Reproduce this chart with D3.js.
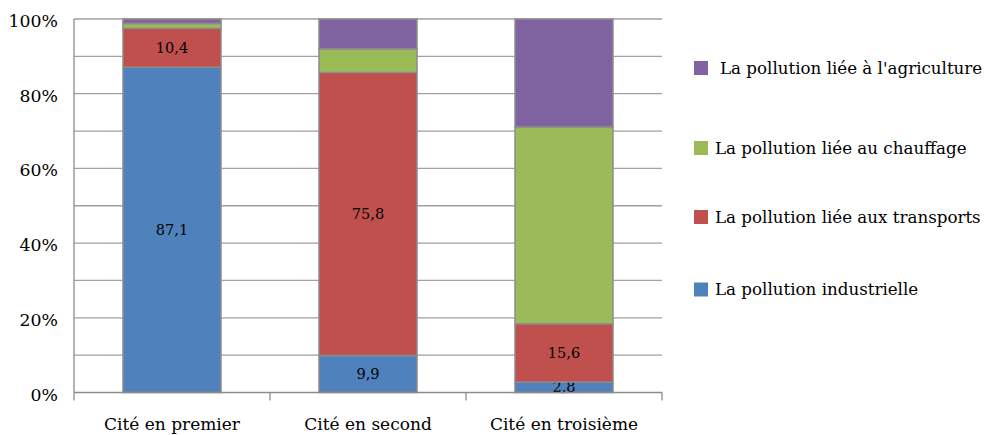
<!DOCTYPE html>
<html><head><meta charset="utf-8">
<script src="https://cdn.jsdelivr.net/npm/d3@7"></script>
<style>body{margin:0;background:#fff}svg{display:block}text{font-family:"DejaVu Serif",serif;fill:#000}</style>
</head><body><svg id="c" width="994" height="435"></svg>
<script>
const categories = ["Cité en premier", "Cité en second", "Cité en troisième"];
const seriesNames = ["La pollution industrielle", "La pollution liée aux transports", "La pollution liée au chauffage", "La pollution liée à l'agriculture"];
const industrielle = [87.1, 9.9, 2.8];
const transports = [10.4, 75.8, 15.6];
const chauffage = [1.3, 6.3, 52.7];
const agriculture = [1.2, 8.0, 28.9];
const labelled = [true, true, false, false];
const yTicks = [0, 20, 40, 60, 80, 100];
const colors = ["#4f81bd", "#c0504d", "#9bbb59", "#8064a2"];

const series = [industrielle, transports, chauffage, agriculture];
const svg = d3.select("#c");
const L = 74, R = 662, T = 19, B = 392.5;
const x = d3.scaleBand().domain(categories).range([L, R]).paddingInner(0.5).paddingOuter(0.25);
const y = d3.scaleLinear().domain([0, 100]).range([B, T]);

// gridlines every 10%
svg.append("g").selectAll("line").data(d3.range(10, 101, 10)).join("line")
  .attr("x1", L).attr("x2", R).attr("y1", d => y(d)).attr("y2", d => y(d))
  .attr("stroke", "#a0a0a0").attr("stroke-width", 1.3);

// stacked data
const rows = categories.map((c, i) => { const o = {cat: c}; seriesNames.forEach((s, k) => o[s] = series[k][i]); return o; });
const stacked = d3.stack().keys(seriesNames)(rows);

stacked.forEach((layer, k) => {
  const g = svg.append("g");
  g.selectAll("rect").data(layer).join("rect")
    .attr("x", d => x(d.data.cat)).attr("width", x.bandwidth())
    .attr("y", d => y(d[1])).attr("height", d => y(d[0]) - y(d[1]))
    .attr("fill", colors[k]).attr("stroke", "#8c8c8c").attr("stroke-width", 1.5);
  if (labelled[k]) {
    g.selectAll("text").data(layer).join("text")
      .attr("x", d => x(d.data.cat) + x.bandwidth() / 2)
      .attr("y", d => (y(d[0]) + y(d[1])) / 2)
      .attr("dy", "0.35em").attr("text-anchor", "middle").style("font-size", "14.5px")
      .text(d => d3.format(".1f")(d[1] - d[0]).replace(".", ","));
  }
});

// axes
const xAxis = svg.append("g").attr("transform", `translate(0,${B})`);
xAxis.append("line").attr("x1", L).attr("x2", R).attr("stroke", "#8c8c8c").attr("stroke-width", 1.3);
const bounds = [L, ...categories.map(c => x(c) + x.bandwidth() + x.step() * 0.25)];
xAxis.selectAll("line.t").data(bounds).join("line").attr("class", "t")
  .attr("x1", d => d).attr("x2", d => d).attr("y1", 0).attr("y2", 8)
  .attr("stroke", "#8c8c8c").attr("stroke-width", 1.3);
xAxis.selectAll("text").data(categories).join("text")
  .attr("x", d => x(d) + x.bandwidth() / 2).attr("y", 37.5).attr("text-anchor", "middle")
  .style("font-size", "17px").text(d => d);

svg.append("line").attr("x1", L).attr("x2", L).attr("y1", T).attr("y2", B)
  .attr("stroke", "#8c8c8c").attr("stroke-width", 1.3);
svg.append("g").selectAll("text").data(yTicks).join("text")
  .attr("x", 58).attr("y", d => y(d) + 2).attr("dy", "0.35em").attr("text-anchor", "end")
  .style("font-size", "17.3px").text(d => d + "%");

// legend (top to bottom: reverse order)
const legY = [68, 148, 217, 289.5];
const legItems = seriesNames.map((s, k) => ({s, k})).reverse();
const lg = svg.append("g").selectAll("g").data(legItems).join("g")
  .attr("transform", (d, i) => `translate(694,${legY[i]})`);
lg.append("rect").attr("x", 0).attr("y", -7).attr("width", 14).attr("height", 14).attr("fill", d => colors[d.k]);
lg.append("text").attr("x", (d, i) => i === 0 ? 26 : 21).attr("dy", "0.35em")
  .style("font-size", "16.7px").text(d => d.s);
</script></body></html>
